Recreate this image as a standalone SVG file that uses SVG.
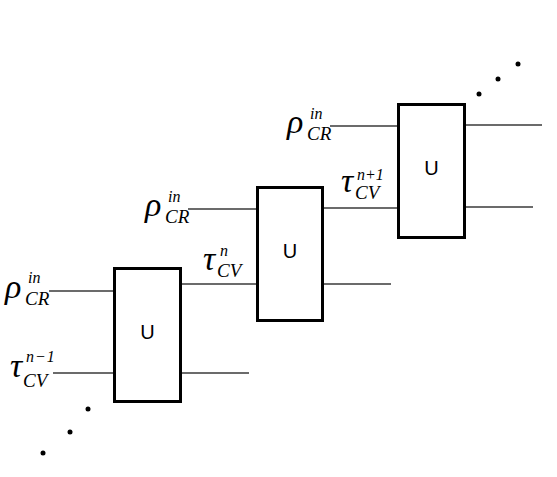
<svg xmlns="http://www.w3.org/2000/svg" width="557" height="477" viewBox="0 0 557 477">
<style>
.box{fill:#fff;stroke:#000;stroke-width:3}
.w{stroke:#3a3a3a;stroke-width:1.3;fill:none}
.u{font-family:'Liberation Sans',Arial,sans-serif;font-size:20px;text-anchor:middle;fill:#000}
.m{font-family:'Liberation Serif','Times New Roman','DejaVu Serif',serif;font-style:italic;fill:#000}
.big{font-size:34px}
.sub{font-size:19px}
.sup{font-size:16px}
.dot{fill:#000}
</style>
<rect width="557" height="477" fill="#fff"/>
<g id="connectors">
<line class="w" x1="49" y1="291" x2="114" y2="291"/>
<line class="w" x1="53" y1="373" x2="114" y2="373"/>
<line class="w" x1="181" y1="284" x2="257" y2="284"/>
<line class="w" x1="181" y1="373" x2="249" y2="373"/>
<line class="w" x1="188" y1="209" x2="257" y2="209"/>
<line class="w" x1="322" y1="208" x2="398" y2="208"/>
<line class="w" x1="322" y1="284" x2="391" y2="284"/>
<line class="w" x1="330" y1="126" x2="398" y2="126"/>
<line class="w" x1="465" y1="125" x2="542" y2="125"/>
<line class="w" x1="465" y1="207" x2="533" y2="207"/>
</g>
<g id="node1">
<rect class="box" x="114.5" y="268.5" width="66" height="133"/>
<text class="u" x="147.5" y="339">U</text>
</g>
<g id="node2">
<rect class="box" x="257.5" y="187.5" width="65" height="133"/>
<text class="u" x="290" y="258">U</text>
</g>
<g id="node3">
<rect class="box" x="398.5" y="104.5" width="66" height="133"/>
<text class="u" x="431.5" y="175">U</text>
</g>
<g id="labels">
<text class="m big" x="5" y="298">ρ</text>
<text class="m sub" x="25" y="305">CR</text>
<text class="m sup" x="28" y="283">in</text>

<text class="m big" x="145" y="216">ρ</text>
<text class="m sub" x="165" y="223">CR</text>
<text class="m sup" x="168" y="202">in</text>

<text class="m big" x="287" y="133">ρ</text>
<text class="m sub" x="307" y="140">CR</text>
<text class="m sup" x="310" y="119">in</text>

<text class="m big" x="10" y="377">τ</text>
<text class="m sub" x="23" y="387">CV</text>
<text class="m sup" x="26" y="362" letter-spacing="1">n−1</text>

<text class="m big" x="203" y="270">τ</text>
<text class="m sub" x="217" y="277">CV</text>
<text class="m sup" x="220" y="256">n</text>

<text class="m big" x="341" y="192">τ</text>
<text class="m sub" x="355" y="199">CV</text>
<text class="m sup" x="357" y="180">n+1</text>
</g>
<g id="dots">
<circle class="dot" cx="479" cy="94" r="2.5"/>
<circle class="dot" cx="498" cy="79" r="2.5"/>
<circle class="dot" cx="518" cy="64" r="2.5"/>
<circle class="dot" cx="88" cy="409" r="2.5"/>
<circle class="dot" cx="70" cy="432" r="2.5"/>
<circle class="dot" cx="43" cy="453" r="2.5"/>
</g>
</svg>
